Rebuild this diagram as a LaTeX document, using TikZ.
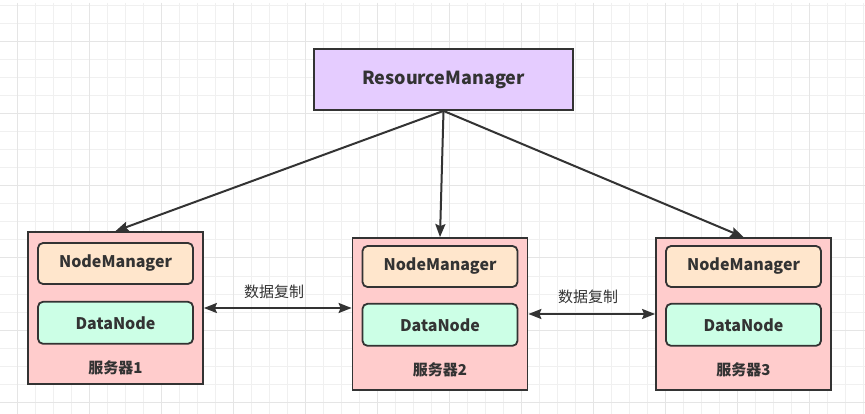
\documentclass[tikz,border=0pt]{standalone}
\usepackage{fontspec}
\setmainfont{Noto Sans CJK SC}
\usetikzlibrary{positioning,arrows.meta}

\definecolor{edge}{HTML}{333333}
\definecolor{rmfill}{HTML}{E5CCFF}
\definecolor{srvfill}{HTML}{FFCCCC}
\definecolor{nmfill}{HTML}{FFE6CC}
\definecolor{dnfill}{HTML}{CCFFE6}

\tikzstyle{box}    = [rectangle, draw=edge, line width=1.8pt, text=edge, font=\bfseries\fontsize{16}{18}\selectfont, text centered]
\tikzstyle{rm}     = [box, fill=rmfill, minimum width=259pt, minimum height=61pt, font=\bfseries\fontsize{18}{20}\selectfont]
\tikzstyle{server} = [box, fill=srvfill, minimum width=175pt, minimum height=152pt]
\tikzstyle{nm}     = [box, fill=nmfill, minimum width=155pt, minimum height=41pt, rounded corners=5pt]
\tikzstyle{dn}     = [box, fill=dnfill, minimum width=155pt, minimum height=42pt, rounded corners=5pt]
\tikzstyle{tag}    = [inner sep=0pt, text=edge, font=\bfseries\fontsize{15}{17}\selectfont]
\tikzstyle{note}   = [inner sep=0pt, text=edge, font=\fontsize{15}{17}\selectfont]
\tikzstyle{arrow}  = [line width=2pt, draw=edge, -{Stealth[length=13pt,width=10pt,inset=2pt]}]
\tikzstyle{both}   = [arrow, {Stealth[length=13pt,width=10pt,inset=2pt]}-{Stealth[length=13pt,width=10pt,inset=2pt]}]
\tikzstyle{gridminor} = [line width=1pt, draw=black!6]
\tikzstyle{gridmajor} = [line width=1pt, draw=black!10]

\begin{document}
\begin{tikzpicture}[x=1pt, y=-1pt]
\useasboundingbox [fill=white] (0,0) rectangle (865,414);
% background grid
\foreach \x in {35,53,...,865} \draw [gridminor] (\x,3) -- (\x,414);
\foreach \y in {6,24,...,414} \draw [gridminor] (0,\y) -- (865,\y);
\foreach \x in {17,89,...,865} \draw [gridmajor] (\x,3) -- (\x,414);
\foreach \y in {42,114,...,414} \draw [gridmajor] (0,\y) -- (865,\y);

\node (rm) [rm] at (443.5,79.5) {ResourceManager};

\node (s1) [server] at (115.5,308) {};
\node (s2) [server] at (440,314) {};
\node (s3) [server] at (743.5,314) {};

\node (nm1) [nm, below=11pt of s1.north] {NodeManager};
\node (dn1) [dn, below=16pt of nm1]      {DataNode};
\node (lbl1) [tag, above=10pt of s1.south] {服务器1};

\node (nm2) [nm, below=8pt of s2.north]  {NodeManager};
\node (dn2) [dn, below=15pt of nm2]      {DataNode};
\node (lbl2) [tag, above=14pt of s2.south] {服务器2};

\node (nm3) [nm, below=8pt of s3.north]  {NodeManager};
\node (dn3) [dn, below=15pt of nm3]      {DataNode};
\node (lbl3) [tag, above=14pt of s3.south] {服务器3};

\node (copy1) [note] at (274,292) {数据复制};
\node (copy2) [note] at (588,297) {数据复制};

\draw [arrow] (rm.south) -- (s1.north);
\draw [arrow] (rm.south) -- (s2.north);
\draw [arrow] (rm.south) -- (s3.north);
\draw [both] (s1.east) -- (s1.east -| s2.west);
\draw [both] (s2.east) -- (s3.west);
\end{tikzpicture}
\end{document}
